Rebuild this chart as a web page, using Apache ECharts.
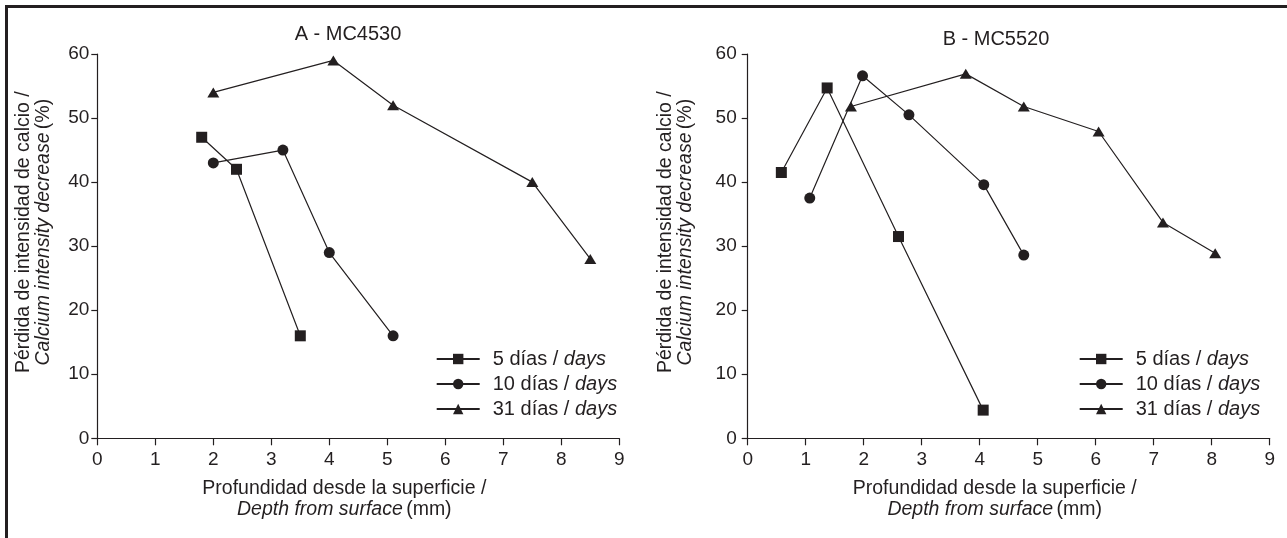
<!DOCTYPE html>
<html>
<head>
<meta charset="utf-8">
<script src="https://cdn.jsdelivr.net/npm/echarts@6/dist/echarts.min.js"></script>
<style>
  html, body { margin: 0; padding: 0; background: #fff; }
  #chart { width: 1287px; height: 538px; }
</style>
</head>
<body>
<div id="chart"></div>
<script>
// series names (legend adds " / days")
const seriesNames = ['5 días', '10 días', '31 días']
const symbols = ['rect', 'circle', 'triangle']

// A - MC4530 : depth (mm) and calcium intensity decrease (%)
const depthA5 = [1.8, 2.4, 3.5]
const lossA5 = [47, 42, 16]
const depthA10 = [2.0, 3.2, 4.0, 5.1]
const lossA10 = [43, 45, 29, 16]
const depthA31 = [2.0, 4.07, 5.1, 7.5, 8.5]
const lossA31 = [54, 59, 52, 40, 28]

// B - MC5520
const depthB5 = [0.58, 1.37, 2.6, 4.06]
const lossB5 = [41.5, 54.7, 31.5, 4.4]
const depthB10 = [1.07, 1.98, 2.78, 4.07, 4.76]
const lossB10 = [37.5, 56.6, 50.5, 39.6, 28.6]
const depthB31 = [1.78, 3.76, 4.76, 6.05, 7.16, 8.06]
const lossB31 = [51.8, 56.9, 51.8, 47.9, 33.7, 28.9]

const xMax = 9
const yMax = 60
const yStep = 10

const ink = '#231f20'
const font = "'Liberation Sans', Arial, sans-serif"

function pairs(xs, ys) {
  return xs.map((x, i) => [x, ys[i]])
}

function xAxisFor(idx) {
  return {
    gridIndex: idx,
    type: 'value',
    min: 0,
    max: xMax,
    interval: 1,
    name: '{a|Profundidad desde la superficie /}\n{i|Depth from surface} {a|(mm)}',
    nameLocation: 'middle',
    nameGap: 40,
    nameTextStyle: {
      padding: [0, 28, 0, 0],
      rich: {
        a: { fontFamily: font, fontSize: 19.5, color: ink, lineHeight: 21 },
        i: { fontFamily: font, fontSize: 19.5, color: ink, lineHeight: 21, fontStyle: 'italic' }
      }
    },
    axisLine: { lineStyle: { color: ink, width: 1.2 } },
    axisTick: { inside: false, length: 7, lineStyle: { color: ink, width: 1.2 } },
    axisLabel: { margin: 12, fontFamily: font, fontSize: 19, color: ink },
    splitLine: { show: false }
  }
}

function yAxisFor(idx, gap, labelMargin) {
  return {
    gridIndex: idx,
    type: 'value',
    min: 0,
    max: yMax,
    interval: yStep,
    name: '{a|Pérdida de intensidad de calcio /}\n{i|Calcium intensity decrease} {a|(%)}',
    nameLocation: 'middle',
    nameRotate: 90,
    nameGap: gap,
    nameTextStyle: {
      padding: [0, 0, 0, 28],
      rich: {
        a: { fontFamily: font, fontSize: 19.5, color: ink, lineHeight: 20 },
        i: { fontFamily: font, fontSize: 19.5, color: ink, lineHeight: 20, fontStyle: 'italic' }
      }
    },
    axisLine: { show: true, lineStyle: { color: ink, width: 1.2 } },
    axisTick: { show: true, inside: false, length: 6, lineStyle: { color: ink, width: 1.2 } },
    axisLabel: { margin: labelMargin, fontFamily: font, fontSize: 19, color: ink },
    splitLine: { show: false }
  }
}

function lineSeries(name, sym, idx, data) {
  return {
    name: name,
    type: 'line',
    xAxisIndex: idx,
    yAxisIndex: idx,
    data: data,
    symbol: sym,
    symbolSize: sym === 'triangle' ? [12, 10] : (sym === 'rect' ? 11 : 11),
    showAllSymbol: true,
    itemStyle: { color: ink },
    lineStyle: { color: ink, width: 1.2 },
    animation: false
  }
}

function legendAt(left) {
  return {
    orient: 'vertical',
    left: left,
    top: 349,
    padding: 0,
    itemWidth: 43,
    itemHeight: 13,
    itemGap: 5,
    data: seriesNames,
    formatter: n => '{a|' + n + ' / }{i|days}',
    textStyle: {
      padding: [0, 0, 0, 8],
      rich: {
        a: { fontFamily: font, fontSize: 20, color: ink, lineHeight: 20 },
        i: { fontFamily: font, fontSize: 20, color: ink, lineHeight: 20, fontStyle: 'italic' }
      }
    }
  }
}

const chart = echarts.init(document.getElementById('chart'))
chart.setOption({
  backgroundColor: '#fff',
  animation: false,
  title: [
    {
      text: 'A - MC4530',
      left: 348, top: 24, padding: 0, textAlign: 'center',
      textStyle: { fontFamily: font, fontSize: 20, fontWeight: 'normal', color: ink }
    },
    {
      text: 'B - MC5520',
      left: 996, top: 29, padding: 0, textAlign: 'center',
      textStyle: { fontFamily: font, fontSize: 20, fontWeight: 'normal', color: ink }
    }
  ],
  grid: [
    { left: 97.3, right: 667.7, top: 54, bottom: 99.7 },
    { left: 747.7, right: 17.3, top: 54, bottom: 99.7 }
  ],
  xAxis: [xAxisFor(0), xAxisFor(1)],
  yAxis: [yAxisFor(0, 44, 8), yAxisFor(1, 52, 11)],
  legend: [legendAt(435.7), legendAt(1078.7)],
  graphic: [
    { type: 'line', shape: { x1: 5, y1: 6.5, x2: 1287, y2: 6.5 }, style: { stroke: ink, lineWidth: 3 } },
    { type: 'line', shape: { x1: 6.5, y1: 5, x2: 6.5, y2: 538 }, style: { stroke: ink, lineWidth: 3 } }
  ],
  series: [
    lineSeries(seriesNames[0], symbols[0], 0, pairs(depthA5, lossA5)),
    lineSeries(seriesNames[1], symbols[1], 0, pairs(depthA10, lossA10)),
    lineSeries(seriesNames[2], symbols[2], 0, pairs(depthA31, lossA31)),
    lineSeries(seriesNames[0], symbols[0], 1, pairs(depthB5, lossB5)),
    lineSeries(seriesNames[1], symbols[1], 1, pairs(depthB10, lossB10)),
    lineSeries(seriesNames[2], symbols[2], 1, pairs(depthB31, lossB31))
  ]
})
</script>
</body>
</html>
